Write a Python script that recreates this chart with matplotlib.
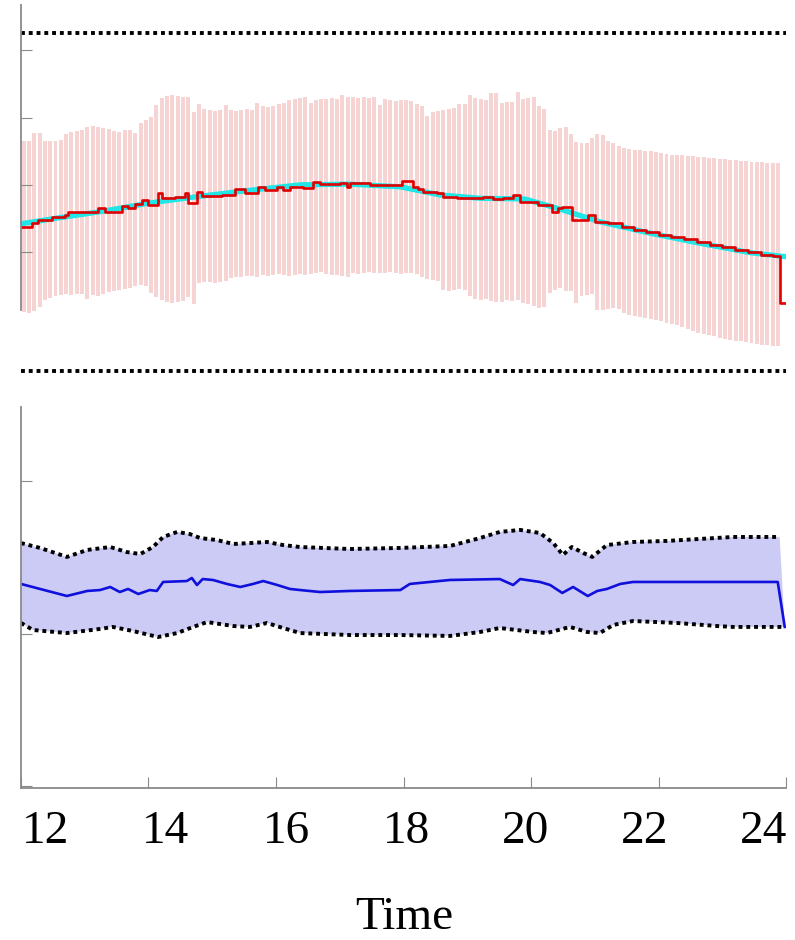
import numpy as np
import matplotlib.pyplot as plt

# ---------------- top panel: 5-minute interval bars + point forecast ----------------
bar_upper = [
    36.5, 36.5, 37.7, 37.7, 36.5, 36.5, 36.5, 36.7,
    37.6, 37.9, 38.0, 38.2, 38.6, 38.7, 38.6, 38.5, 38.3, 38.0, 37.9, 38.2, 38.2, 37.7,
    39.2, 39.6, 40.1, 41.9, 42.9, 43.2, 43.4, 43.2, 43.1, 43.1,
    40.8, 42.0, 41.3, 41.1, 41.0, 41.1, 41.9, 41.1, 41.0, 41.1, 41.3, 41.1, 42.2, 41.7, 41.6, 41.7,
    42.0, 42.2, 42.6, 42.8, 42.9, 43.1, 42.2, 42.6, 42.8, 42.8, 42.9, 42.8, 43.4,
    43.1, 43.1, 42.9, 43.1, 42.9, 43.1, 41.9, 42.8, 42.6, 42.5, 42.6, 42.6, 42.5, 42.0, 41.7,
    40.2, 40.8, 41.0, 41.1, 41.3, 41.4, 42.0, 42.0, 43.4, 42.9, 42.8, 42.6, 43.7, 43.7, 42.2, 42.3, 42.3, 43.8,
    42.8, 42.9, 43.1, 41.7, 41.3, 38.2, 38.0, 38.5, 38.6, 37.6, 36.4, 36.2, 36.2, 37.0, 37.6, 37.4, 36.5, 36.2,
    35.8, 35.5, 35.3, 35.2, 35.2, 35.0, 35.0,
    34.9, 34.7, 34.6, 34.4, 34.4, 34.4, 34.3, 34.3, 34.1,
    34.1, 34.0, 34.0, 33.8, 33.8,
    33.7, 33.7, 33.5, 33.5, 33.4, 33.4, 33.4, 33.2, 33.2, 33.2,
]
bar_lower = [
    11.1, 10.9, 11.2, 11.8, 12.9, 13.2, 13.5, 13.6,
    13.8, 13.6, 13.8, 13.8, 13.0, 13.6, 13.5, 13.8, 14.0, 14.2, 14.3, 14.5, 14.6, 14.9,
    15.1, 14.9, 13.9, 13.3, 12.9, 12.6, 12.4, 12.6, 12.7, 13.3,
    12.3, 15.4, 15.5, 15.5, 15.4, 15.5, 15.7, 16.1, 16.3, 16.3, 16.4, 16.4, 16.3, 16.6, 16.4, 16.6,
    16.7, 16.6, 16.4, 16.6, 16.7, 16.6, 16.7, 16.9, 17.0, 16.7, 16.6, 16.6, 16.4,
    16.3, 16.9, 16.7, 16.9, 17.0, 16.9, 16.9, 16.9, 17.0, 16.9, 16.7, 16.9, 16.9, 16.7, 16.3,
    16.0, 15.8, 15.7, 14.3, 14.2, 14.3, 14.5, 14.3, 13.5, 13.0, 12.9, 13.0, 12.7, 12.6, 12.6, 12.9, 12.7, 12.9,
    12.4, 12.3, 12.0, 11.7, 11.8, 13.9, 14.3, 14.6, 14.2, 14.2, 12.4, 13.5, 13.6, 13.8, 11.4, 11.4, 11.5, 11.7,
    11.5, 10.9, 10.6, 10.5, 10.3, 10.2, 10.0,
    9.9, 9.7, 9.4, 9.3, 9.1, 8.8, 8.5, 8.2, 7.9,
    7.8, 7.6, 7.5, 7.2, 7.1,
    6.9, 6.8, 6.8, 6.6, 6.5, 6.3, 6.2, 6.2, 6.0, 6.0,
]
bar_time = 12 + (np.arange(len(bar_upper)) + 0.5) / 12   # 5-minute slots

cyan_t = [12.0, 12.6, 13.24, 14.02, 14.81, 15.6, 16.38, 17.16, 17.95, 18.57,
          19.2, 19.9, 20.45, 21.08, 21.87, 22.65, 23.44, 24.0]
cyan_v = [24.2, 25.1, 26.0, 27.3, 28.3, 29.2, 30.0, 30.1, 29.7, 28.5,
          28.0, 27.9, 26.4, 24.5, 22.8, 21.3, 19.9, 19.3]

red_t = [12.00, 12.17, 12.27, 12.49, 12.69, 12.74, 13.21, 13.32, 13.58, 13.68,
         13.79, 13.90, 13.99, 14.15, 14.21, 14.42, 14.57, 14.62, 14.76, 14.84,
         15.15, 15.36, 15.51, 15.72, 15.83, 16.02, 16.11, 16.22, 16.42, 16.58,
         16.69, 17.00, 17.11, 17.16, 17.47, 17.98, 18.15, 18.23, 18.31, 18.53,
         18.62, 18.84, 19.25, 19.40, 19.56, 19.72, 19.83, 20.11, 20.33, 20.42,
         20.49, 20.64, 20.89, 21.00, 21.21, 21.43, 21.62, 21.80, 22.00, 22.20,
         22.40, 22.60, 22.80, 23.00, 23.20, 23.40, 23.60, 23.80, 23.91, 24.00]
red_v = [23.7, 24.3, 24.8, 25.2, 25.5, 26.0, 26.5, 26.0, 26.8, 26.5,
         27.1, 27.7, 27.0, 28.8, 28.0, 28.2, 28.8, 27.3, 28.9, 28.3,
         28.5, 29.4, 28.8, 29.7, 29.2, 29.7, 29.2, 29.7, 29.5, 30.4,
         30.1, 30.3, 29.7, 30.3, 30.0, 30.6, 29.7, 29.4, 28.9, 28.8,
         28.2, 28.0, 28.2, 27.9, 28.0, 28.5, 27.4, 27.0, 26.0, 26.5,
         26.7, 24.8, 25.5, 24.5, 24.3, 23.7, 23.3, 23.0, 22.6, 22.3,
         21.9, 21.5, 21.1, 20.7, 20.3, 20.0, 19.6, 19.4, 12.4, 12.4]

limit_t = [12.0, 24.0]
limit_hi = [52.6, 52.6]
limit_lo = [2.3, 2.3]

# ---------------- bottom panel: band + mean ----------------
up_t = [12.00, 12.30, 12.72, 13.04, 13.40, 13.66, 13.87, 14.07, 14.23, 14.45,
        14.65, 14.81, 15.07, 15.33, 15.59, 15.86, 16.11, 16.38, 17.16, 17.95,
        18.73, 19.20, 19.51, 19.83, 20.14, 20.35, 20.50, 20.64, 20.82, 20.96,
        21.19, 21.60, 22.13, 22.65, 23.17, 23.90]
up_v = [1.593, 1.561, 1.502, 1.548, 1.567, 1.534, 1.521, 1.567, 1.633, 1.666,
        1.652, 1.626, 1.613, 1.587, 1.593, 1.600, 1.580, 1.567, 1.554, 1.561,
        1.574, 1.626, 1.666, 1.679, 1.659, 1.593, 1.515, 1.567, 1.528, 1.502,
        1.580, 1.600, 1.607, 1.620, 1.633, 1.633]

lo_t = [12.00, 12.19, 12.72, 13.24, 13.44, 13.76, 14.15, 14.45, 14.70, 14.92,
        15.33, 15.59, 15.86, 16.11, 16.38, 17.16, 17.95, 18.73, 19.20, 19.51,
        20.03, 20.25, 20.61, 20.88, 21.08, 21.29, 21.60, 21.98, 22.29, 22.92,
        23.17, 23.98]
lo_v = [1.069, 1.023, 1.003, 1.030, 1.043, 1.016, 0.977, 1.003, 1.043, 1.075,
        1.049, 1.043, 1.069, 1.036, 1.003, 0.990, 0.990, 0.984, 1.010, 1.036,
        1.010, 1.003, 1.043, 1.010, 1.003, 1.056, 1.082, 1.075, 1.069, 1.049,
        1.043, 1.043]

mean_t = [12.00, 12.30, 12.72, 13.04, 13.24, 13.40, 13.55, 13.68, 13.84, 14.02,
          14.13, 14.23, 14.60, 14.68, 14.76, 14.85, 15.01, 15.23, 15.44, 15.64,
          15.80, 16.02, 16.22, 16.38, 16.69, 17.16, 17.95, 18.10, 18.73, 19.51,
          19.72, 19.83, 20.14, 20.30, 20.49, 20.66, 20.89, 21.04, 21.19, 21.40,
          21.60, 22.13, 23.17, 23.87, 23.98]
mean_v = [1.325, 1.292, 1.246, 1.279, 1.285, 1.305, 1.272, 1.292, 1.259, 1.285,
          1.279, 1.338, 1.344, 1.364, 1.318, 1.357, 1.351, 1.325, 1.305, 1.325,
          1.344, 1.318, 1.292, 1.285, 1.272, 1.279, 1.285, 1.325, 1.351, 1.357,
          1.318, 1.357, 1.338, 1.318, 1.266, 1.305, 1.246, 1.279, 1.292, 1.325,
          1.338, 1.338, 1.338, 1.338, 1.043]

xticks = [12, 14, 16, 18, 20, 22, 24]
xtick_labels = ['12', '14', '16', '18', '20', '22', '24']
label_pos = [12.39, 14.27, 16.17, 18.04, 19.91, 21.78, 23.64]

spine_col = '#8a8a8a'
serif = 'Liberation Serif'
dots = (0, (1.0, 1.0))

fig = plt.figure(figsize=(7.95, 9.4), dpi=100)
ax1 = fig.add_axes([0.0264, 0.5957, 0.9623, 0.3989])
ax2 = fig.add_axes([0.0264, 0.1617, 0.9623, 0.4053])

# top
ax1.bar(bar_time, np.array(bar_upper) - np.array(bar_lower), bottom=bar_lower,
        width=0.062, color='#f7d4d4', linewidth=0)
ax1.plot(cyan_t, cyan_v, color='#22e5e5', lw=3.8, solid_capstyle='butt')
ax1.step(red_t, red_v, where='post', color='#e00000', lw=1.9)
ax1.plot(limit_t, limit_hi, color='black', lw=2.8, linestyle=dots)
ax1.plot(limit_t, limit_lo, color='black', lw=2.8, linestyle=dots)
ax1.set_xlim(12, 24)
ax1.set_ylim(0.95, 56.75)
ax1.set_yticks([20, 30, 40, 50])
for s in ['top', 'right', 'bottom']:
    ax1.spines[s].set_visible(False)
ax1.spines['left'].set_color(spine_col)
ax1.spines['left'].set_linewidth(1.3)
ax1.spines['left'].set_bounds(11.4, 56.75)
ax1.tick_params(axis='y', direction='in', length=8, color=spine_col, labelleft=False)
ax1.tick_params(axis='x', bottom=False, labelbottom=False)

# bottom
ax2.fill(list(up_t) + lo_t[::-1], list(up_v) + lo_v[::-1], color='#cbcbf5', linewidth=0)
ax2.plot(up_t, up_v, color='black', lw=2.8, linestyle=dots)
ax2.plot(lo_t, lo_v, color='black', lw=2.8, linestyle=dots)
ax2.plot(mean_t, mean_v, color='#1010dd', lw=1.9)
ax2.set_xlim(12, 24)
ax2.set_ylim(-0.013, 2.485)
ax2.set_yticks([0, 1, 2])
for s in ['top', 'right']:
    ax2.spines[s].set_visible(False)
for s in ['left', 'bottom']:
    ax2.spines[s].set_color(spine_col)
    ax2.spines[s].set_linewidth(1.3)
ax2.tick_params(axis='y', direction='in', length=8, color=spine_col, labelleft=False)
ax2.set_xticks(xticks)
ax2.set_xticklabels([])
ax2.tick_params(axis='x', which='major', direction='in', length=8, color=spine_col)
ax2.set_xticks(label_pos, minor=True)
ax2.set_xticklabels(xtick_labels, minor=True, fontsize=34, family=serif)
ax2.tick_params(axis='x', which='minor', length=0, pad=16)

fig.text(0.509, 0.012, 'Time', ha='center', va='baseline', fontsize=34, family=serif)

fig.savefig('out.png', dpi=100)
